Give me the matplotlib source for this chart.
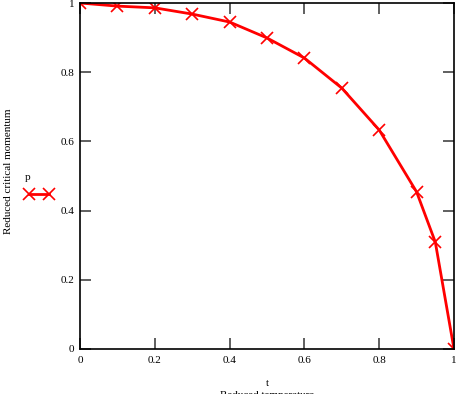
import matplotlib
matplotlib.use("Agg")
import matplotlib.pyplot as plt

t = [0, 0.1, 0.2, 0.3, 0.4, 0.5, 0.6, 0.7, 0.8, 0.9, 0.95, 1.0]
p = [1.0, 0.991, 0.986, 0.968, 0.945, 0.899, 0.841, 0.754, 0.633, 0.454, 0.309, 0.0]
xticks = [0, 0.2, 0.4, 0.6, 0.8, 1]
yticks = [0, 0.2, 0.4, 0.6, 0.8, 1]

plt.rcParams['font.family'] = ['Liberation Serif', 'DejaVu Serif']

fig = plt.figure(figsize=(4.58, 3.94), dpi=100)
ax = fig.add_axes([80/458, 1-349/394, (454-80)/458, (349-3)/394])
line, = ax.plot(t, p, color='#ff0000', lw=2, marker='x', ms=9, mew=1.2)
ax.set_xlim(0, 1)
ax.set_ylim(0, 1)
ax.set_xticks(xticks)
ax.set_yticks(yticks)
ax.set_xticklabels(['0', '0.2', '0.4', '0.6', '0.8', '1'])
ax.set_yticklabels(['0', '0.2', '0.4', '0.6', '0.8', '1'])
ax.tick_params(direction='in', top=True, right=True, length=8, width=1.2, color='#444444',
               labelsize=8)
ax.tick_params(axis='x', pad=5)
ax.tick_params(axis='y', pad=4)
for s in ax.spines.values():
    s.set_linewidth(1.2)
ax.set_xlabel('t\nReduced temperature', fontsize=8, labelpad=10, linespacing=1.4)
ax.set_ylabel('Reduced critical momentum', fontsize=8)
ax.yaxis.set_label_coords(-0.178, 0.515)

leg = fig.legend([line], [''], loc='center', bbox_to_anchor=(39/458, 1-187/394),
                 numpoints=2, handlelength=2.0, frameon=False, title='p',
                 title_fontsize=8, handletextpad=0, borderpad=0)
leg._legend_box.align = 'left'

fig.savefig('out.png', dpi=100)
